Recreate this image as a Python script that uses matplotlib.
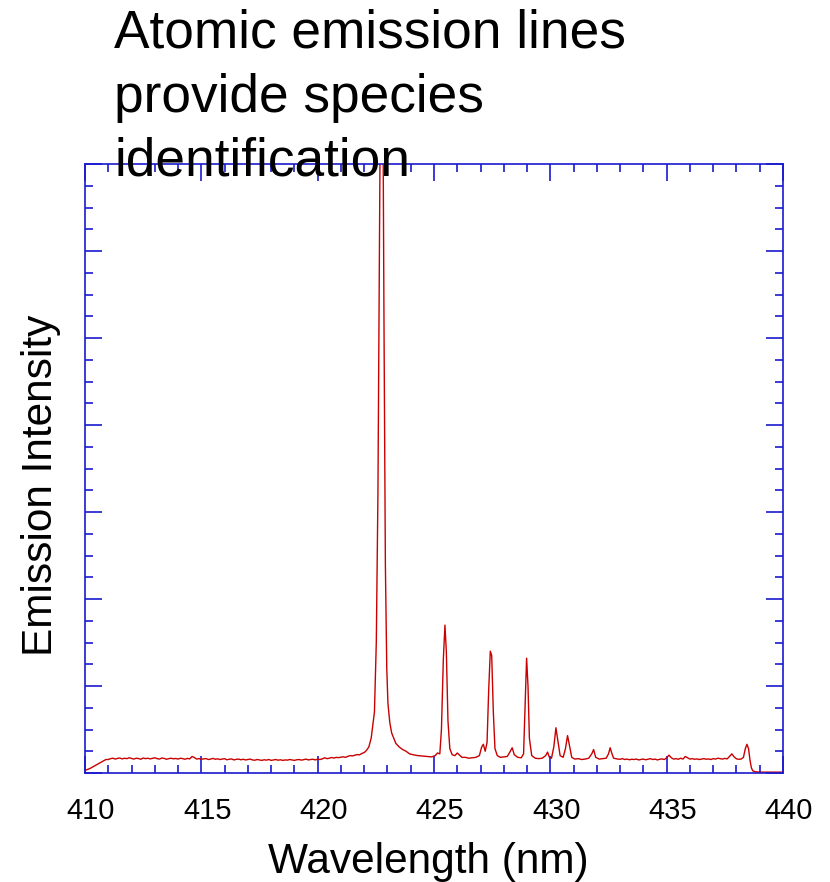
import numpy as np
import matplotlib.pyplot as plt
import matplotlib.transforms as mtransforms
from matplotlib.ticker import MultipleLocator

plt.rcParams['font.family'] = ['Liberation Sans', 'DejaVu Sans']

# spectrum read point by point: wavelength (nm) and emission intensity (arb.)
# flat stretches of the baseline
base_a_wl = [round(411.0 + 0.1 * i, 2) for i in range(110)]   # 411.0 .. 421.9
base_a_int = [
    0.155, 0.165, 0.170, 0.160, 0.168, 0.172, 0.162, 0.170, 0.165, 0.175,
    0.168, 0.160, 0.170, 0.166, 0.158, 0.172, 0.165, 0.170, 0.162, 0.168,
    0.175, 0.165, 0.160, 0.172, 0.168, 0.158, 0.165, 0.170, 0.163, 0.167,
    0.160, 0.170, 0.165, 0.158, 0.168, 0.162, 0.190, 0.178, 0.160, 0.165,
    0.158, 0.162, 0.166, 0.155, 0.160, 0.168, 0.158, 0.163, 0.155, 0.160,
    0.165, 0.152, 0.158, 0.162, 0.150, 0.157, 0.160, 0.152, 0.158, 0.150,
    0.155, 0.160, 0.150, 0.147, 0.155, 0.150, 0.145, 0.152, 0.148, 0.155,
    0.145, 0.150, 0.155, 0.147, 0.152, 0.145, 0.150, 0.148, 0.155, 0.150,
    0.145, 0.152, 0.155, 0.148, 0.153, 0.160, 0.150, 0.155, 0.158, 0.150,
    0.160, 0.155, 0.162, 0.175, 0.165, 0.170, 0.178, 0.172, 0.180, 0.176,
    0.182, 0.186, 0.180, 0.192, 0.200, 0.196, 0.205, 0.212, 0.208, 0.225,
]
base_b_wl = [round(432.8 + 0.1 * i, 2) for i in range(55)]    # 432.8 .. 438.2
base_b_int = [
    0.165, 0.160, 0.158, 0.165, 0.155, 0.160, 0.152, 0.158, 0.155, 0.160,
    0.150, 0.156, 0.160, 0.152, 0.158, 0.165, 0.155, 0.160, 0.150, 0.158,
    0.162, 0.155, 0.175, 0.205, 0.175, 0.160, 0.165, 0.158, 0.170, 0.160,
    0.190, 0.175, 0.160, 0.165, 0.158, 0.162, 0.155, 0.160, 0.165, 0.158,
    0.162, 0.155, 0.165, 0.160, 0.170, 0.165, 0.160, 0.168, 0.162, 0.190,
    0.220, 0.185, 0.162, 0.158, 0.160,
]

start_wl = [410.0, 410.2, 410.4, 410.6, 410.8, 410.9]
start_int = [0.03, 0.05, 0.08, 0.11, 0.14, 0.155]

# Ca 422.7 line and the group of weaker lines after it
lines_wl = [
    422.0, 422.1, 422.2, 422.3, 422.44, 422.52, 422.59, 422.65, 422.70, 422.75,
    422.80, 422.85, 422.91, 422.97, 423.02, 423.1, 423.18, 423.27, 423.36, 423.5,
    423.65, 423.8, 423.95, 424.1, 424.3, 424.5, 424.7, 424.9, 425.05, 425.15,
    425.25, 425.32, 425.4, 425.47, 425.53, 425.6, 425.68, 425.78, 425.9, 426.0,
    426.08, 426.2, 426.35, 426.5, 426.65, 426.8, 426.95, 427.05, 427.12, 427.2,
    427.28, 427.35, 427.42, 427.48, 427.55, 427.62, 427.72, 427.85, 428.0, 428.15,
    428.28, 428.36, 428.45, 428.6, 428.75, 428.85, 428.92, 428.98, 429.04, 429.1,
    429.2, 429.35, 429.5, 429.65, 429.8, 429.88, 429.96, 430.05, 430.15, 430.24,
    430.32, 430.42, 430.55, 430.65, 430.74, 430.82, 430.92, 431.05, 431.2, 431.35,
    431.5, 431.65, 431.78, 431.86, 431.95, 432.1, 432.25, 432.4, 432.5, 432.57,
    432.65, 432.72,
]
lines_int = [
    0.235, 0.26, 0.30, 0.40, 0.70, 1.50, 3.20, 5.80, 8.00, 9.00,
    8.00, 5.20, 2.40, 1.20, 0.80, 0.58, 0.46, 0.40, 0.34, 0.30,
    0.27, 0.25, 0.22, 0.21, 0.20, 0.195, 0.19, 0.185, 0.20, 0.23,
    0.22, 0.50, 1.30, 1.70, 1.40, 0.60, 0.28, 0.21, 0.20, 0.23,
    0.21, 0.18, 0.18, 0.17, 0.175, 0.18, 0.20, 0.30, 0.33, 0.25,
    0.35, 0.95, 1.40, 1.35, 0.70, 0.28, 0.20, 0.18, 0.185, 0.19,
    0.25, 0.29, 0.21, 0.18, 0.175, 0.22, 0.80, 1.32, 1.00, 0.40,
    0.20, 0.17, 0.165, 0.17, 0.20, 0.24, 0.18, 0.17, 0.30, 0.52,
    0.38, 0.20, 0.18, 0.28, 0.43, 0.32, 0.18, 0.16, 0.165, 0.155,
    0.16, 0.17, 0.22, 0.27, 0.18, 0.16, 0.165, 0.17, 0.22, 0.29,
    0.22, 0.17,
]

end_wl = [438.3, 438.38, 438.45, 438.52, 438.58, 438.64, 438.7, 438.8, 439.0, 439.5, 440.0]
end_int = [0.18, 0.28, 0.33, 0.28, 0.15, 0.06, 0.025, 0.015, 0.01, 0.01, 0.01]

wavelength = start_wl + base_a_wl + lines_wl + base_b_wl + end_wl
intensity = start_int + base_a_int + lines_int + base_b_int + end_int

title_lines = ['Atomic emission lines', 'provide species', 'identification']

W, H = 830, 882
fig = plt.figure(figsize=(W/100, H/100), dpi=100)
ax = fig.add_axes([85/W, 1-773/H, 698/W, 609/H])

ax.plot(wavelength, intensity, color='#c80000', lw=1.0)
ax.set_xlim(410, 440)
ax.set_ylim(0, 7)

blue = '#1a1ad0'
for s in ax.spines.values():
    s.set_color(blue)
    s.set_linewidth(1.2)
ax.xaxis.set_major_locator(MultipleLocator(5))
ax.xaxis.set_minor_locator(MultipleLocator(1))
ax.yaxis.set_major_locator(MultipleLocator(1))
ax.yaxis.set_minor_locator(MultipleLocator(0.25))
ax.tick_params(which='both', direction='in', top=True, right=True, color=blue, width=1.2)
ax.tick_params(which='major', length=12)
ax.tick_params(which='minor', length=6)
ax.tick_params(axis='x', labelsize=21, pad=17.3)
ax.tick_params(axis='y', labelleft=False)

# tick numbers sit a little right of their ticks
shift = mtransforms.ScaledTranslation(6/100, 0, fig.dpi_scale_trans)
for lab in ax.get_xticklabels():
    lab.set_transform(lab.get_transform() + shift)

fig.text(428/W, 1-873/H, 'Wavelength (nm)', fontsize=30.5, ha='center', va='baseline')
fig.text(52/W, 1-485/H, 'Emission Intensity', fontsize=30.5, rotation=90,
         rotation_mode='anchor', ha='center', va='baseline')

for txt, base in zip(title_lines, [48, 112, 175]):
    fig.text(114/W, 1-base/H, txt, fontsize=38.3, ha='left', va='baseline', zorder=10)

fig.savefig('out.png')
